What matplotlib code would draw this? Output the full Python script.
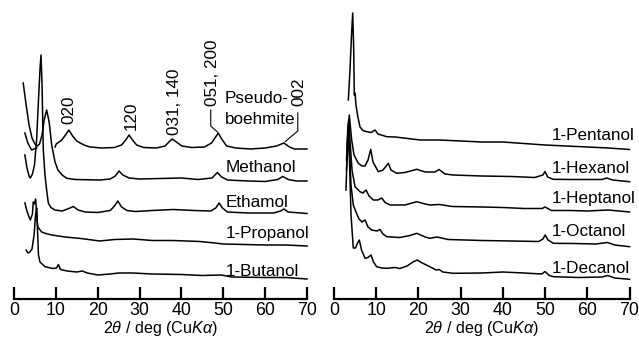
import matplotlib
matplotlib.use("Agg")
import matplotlib.pyplot as plt

plt.rcParams['font.family'] = ['Liberation Sans', 'DejaVu Sans']
plt.rcParams['mathtext.fontset'] = 'custom'
plt.rcParams['mathtext.rm'] = 'Liberation Sans'
plt.rcParams['mathtext.it'] = 'Liberation Sans:italic'

nan = float('nan')

# ---------------- data (2theta in deg, stacked intensity in a.u.) ----------------
# Left panel (nan = break in the drawn trace where it passes behind other traces)
pb_x = [2.6, 3.3, 4.2, 5.4, 6.0, 9.8, 10.1, 11.4, 12.3, 13.1, 14.0, 15.0, 15.8, 17.0, 18.2, 21.0, 24.0,
        25.7, 26.7, 27.5, 28.3, 29.3, 31.0, 34.0, 36.1, 37.0, 37.8, 38.8, 40.1, 42.5, 45.5, 47.2, 48.0,
        48.8, 49.6, 50.8, 53.0, 56.4, 60.0, 62.7, 64.5, 65.8, 67.0, 70.0]
pb_y = [166, 156, 149, 151, nan, 152, 155, 159, 164, 169, 163, 158, 156, 153.5, 152, 151, 151.5,
        154, 159, 164, 159, 154, 151.5, 151, 153, 157, 160, 157, 153, 151.5, 152, 156, 161,
        166, 160, 153, 151, 150, 151, 153, 156, 152, 150, 150]

me_x = [2.2, 2.9, 3.6, 4.3, 5.0, 5.6, 6.1, 6.7, 7.2, 7.8, 8.4, 9.0, 9.8, 10.5, 11.5, 12.6, 14.6, 20.5,
        23.0, 24.2, 25.1, 26.0, 27.5, 30.0, 35.0, 40.0, 44.0, 47.3, 48.6, 49.6, 51.0, 56.0, 60.0, 63.0,
        64.2, 65.5, 67.5, 70.0]
me_y = [216, 194, 174, 161, 155, 153, 155, 164, 179, 189, 177, 154, 137, 129, 124, 120.7, 119.5, 119,
        120, 123, 128, 124, 121, 120, 120.5, 121, 119.5, 121, 126.5, 122, 119, 118, 117.5, 119.5,
        122.5, 119.5, 118, 118]

et_x = [2.6, 3.1, 3.6, 3.9, 4.4, 4.9, 5.4, 5.85, 6.2, 6.45, 6.7, 7.0, 7.4, 7.8, 8.2, 8.8, 9.8, 11.5,
        12.8, 14.2, 15.3, 17.0, 20.0, 23.0, 24.0, 24.8, 25.7, 27.0, 29.0, 33.0, 38.0, 43.0, 47.0, 48.2,
        49.0, 49.8, 51.0, 56.0, 62.0, 63.7, 64.5, 65.5, 70.0]
et_y = [144, 131, 123, 121, 125, 134, 159, 199, 229, 244, 214, 149, 124, 109, 96, 91.5, 89, 88,
        90, 92.5, 89, 87, 86.5, 88.5, 93, 98, 92, 88.5, 87.5, 88.5, 89.5, 88.5, 88, 91,
        96, 91, 87, 86, 86, 88, 90, 87, 85.5]

pr_x = [2.6, 3.1, 3.6, 3.9, 4.4, 4.6, 4.85, 5.17, 5.5, 5.7, 6.6, 7.6, 9.0, 12.2, 16.0, 20.5, 24.0,
        28.4, 33.0, 38.0, 44.4, 48.0, 50.0, 55.0, 60.0, 65.0, 70.0]
pr_y = [96, 88, 82, 79, 85, 97, 95, 100, 80, 72, 67, 65.5, 64, 62, 60.5, 58, 59.5,
        60, 58.5, 58.5, 57.5, 56, 55, 54.5, 54, 54, 53]

bu_x = [2.9, 3.3, 3.8, 4.3, 4.8, 5.14, 5.42, 5.66, 5.85, 6.2, 7.4, 9.3, 10.15, 10.6, 11.1, 12.7, 15.0,
        16.3, 17.5, 20.0, 23.0, 25.0, 28.4, 33.0, 40.0, 45.0, 49.5, 52.0, 60.0, 65.0, 70.0]
bu_y = [49, 46, 47, 50, 64, 84, 91, 64, 44, 37, 32.3, 30.5, 31, 34.5, 29.5, 28, 27,
        28, 26, 24, 25, 26, 26, 25, 24.5, 23.5, 24, 22, 21.5, 21.5, 20]

# Right panel
pe_x = [3.39, 3.79, 4.15, 4.43, 4.67, 4.81, 4.98, 5.21, 5.57, 6.16, 6.87, 7.75, 8.77, 9.72, 10.4, 12.5,
        14.5, 20.4, 25.0, 30.0, 35.0, 40.0, 45.0, 50.0, 55.0, 60.0, 65.0, 70.0]
pe_y = [199, 229, 264, 286, 249, 204, 206, 194, 184, 172, 168.5, 167.3, 166.5, 169, 165, 162.3,
        162, 159, 159, 158, 157, 157, 155.5, 154, 153, 152, 151, 149.5]

hx_x = [3.08, 3.39, 3.63, 3.91, 4.19, 4.74, 5.76, 6.64, 7.35, 8.06, 8.7, 9.24, 10.5, 11.6, 12.87, 13.5,
        14.86, 16.8, 19.6, 21.6, 23.9, 24.9, 26.3, 28.2, 35.0, 42.0, 47.5, 49.5, 50.0, 50.6, 51.9,
        56.0, 60.0, 63.5, 64.6, 66.0, 70.0]
hx_y = [149, 174, 184, 171, 159, 144, 135.7, 133, 133, 139, 149.7, 137, 127.3, 129, 135.7, 129,
        125.7, 126.5, 129.7, 127, 127, 129.5, 125, 124, 123, 122.5, 121.5, 124, 127.5, 122, 119.7,
        119.5, 119.5, 119.5, 121, 119, 117.3]

hp_x = [2.96, 3.27, 3.5, 3.79, 4.27, 4.98, 6.16, 6.87, 7.58, 8.3, 9.31, 10.4, 11.3, 12.1, 13.3, 16.8,
        19.6, 21.6, 22.7, 25.0, 28.0, 35.0, 40.0, 45.0, 49.3, 50.0, 51.5, 56.0, 60.0, 65.0, 70.0]
hp_y = [139, 171, 179, 159, 129, 112.3, 107.3, 106, 109, 103, 99, 99, 101, 96.5, 94, 94,
        97.3, 95, 94, 94.5, 92.5, 92, 91.5, 90.5, 90.5, 92, 88.5, 88.5, 88, 89, 87]

oc_x = [2.84, 3.15, 3.39, 3.67, 4.03, 4.57, 5.21, 5.92, 6.64, 7.35, 8.06, 8.93, 10.2, 10.9, 11.6, 12.5,
        15.6, 18.0, 19.6, 21.6, 22.7, 24.4, 27.0, 35.0, 42.0, 48.5, 49.5, 50.0, 50.7, 52.0, 57.0,
        62.0, 64.8, 66.5, 70.0]
oc_y = [109, 149, 169, 149, 114, 94, 87, 80, 77, 79, 72, 69, 68, 69.5, 65, 62.3,
        61.5, 63.5, 65.7, 62, 60.7, 62, 59.5, 58.5, 58, 57.5, 60, 64, 59, 55.7, 55.5,
        55, 56.5, 54, 52.3]

de_x = [2.96, 3.32, 3.67, 4.03, 4.57, 5.09, 5.57, 6.0, 6.52, 7.35, 8.06, 8.77, 9.36, 10.1, 11.3, 12.5,
        14.5, 15.6, 17.3, 18.7, 19.7, 20.9, 22.7, 24.2, 24.9, 25.8, 28.2, 35.0, 40.0, 45.0, 49.2,
        50.0, 51.0, 52.0, 58.0, 63.5, 64.8, 66.5, 70.0]
de_y = [129, 164, 139, 84, 51, 51, 56, 59, 49, 40.7, 41.5, 44, 37, 32.3, 31, 30.7,
        31.5, 30.5, 33, 37, 39, 36, 32.3, 29, 29.5, 27, 25.7, 26, 27, 26, 25,
        27.5, 23.5, 22.3, 21.5, 22, 23.5, 21, 19.7]

left_series = [(pb_x, pb_y), (me_x, me_y), (et_x, et_y), (pr_x, pr_y), (bu_x, bu_y)]
right_series = [(pe_x, pe_y), (hx_x, hx_y), (hp_x, hp_y), (oc_x, oc_y), (de_x, de_y)]

left_labels = ["Methanol", "Ethamol", "1-Propanol", "1-Butanol"]
left_label_y = [126.5, 92, 60.7, 23.5]
right_labels = ["1-Pentanol", "1-Hexanol", "1-Heptanol", "1-Octanol", "1-Decanol"]
right_label_y = [159, 125.7, 95.7, 63.3, 26.3]

peak_labels = ["020", "120", "031, 140", "051, 200", "002"]
peak_pos = [13.1, 28.1, 38.3, 47.4, 68.1]
peak_lab_y = [189, 183, 197, 226, 207]

xticks = [0, 10, 20, 30, 40, 50, 60, 70]

# ---------------- figure ----------------
W, H = 639, 341
fig = plt.figure(figsize=(W / 100, H / 100), dpi=100)
axis_py = 299
axL = fig.add_axes([14 / W, (H - axis_py) / H, (307 - 14) / W, axis_py / H])
axR = fig.add_axes([334 / W, (H - axis_py) / H, (629.5 - 334) / W, axis_py / H])

FS = 12.3
for ax, series in ((axL, left_series), (axR, right_series)):
    for xs, ys in series:
        ax.plot(xs, ys, color='black', lw=1.1, clip_on=False, solid_joinstyle='round')
    ax.set_xlim(0, 70)
    ax.set_ylim(0, axis_py)
    for s in ('left', 'right', 'top'):
        ax.spines[s].set_visible(False)
    ax.spines['bottom'].set_linewidth(1.6)
    ax.set_yticks([])
    ax.set_xticks(xticks)
    ax.tick_params(axis='x', direction='in', length=9, width=1.6, pad=2, labelsize=12.8)
    ax.set_xlabel(r'2$\theta$ / deg (Cu$K\alpha$)', fontsize=11.6, labelpad=0.5)
    ax.patch.set_alpha(0)

for lab, y in zip(left_labels, left_label_y):
    axL.text(50.6, y, lab, fontsize=FS, ha='left', va='baseline')
axL.text(50.4, 196, "Pseudo-", fontsize=FS, ha='left', va='baseline')
axL.text(50.4, 175, "boehmite", fontsize=FS, ha='left', va='baseline')

for lab, x, y in zip(peak_labels, peak_pos, peak_lab_y):
    axL.text(x, y, lab, fontsize=FS, rotation=90, ha='center', va='center')

# leader lines for 051,200 and 002
axL.plot([47.0, 47.0, 48.6], [189, 173, 167], color='black', lw=0.8)
axL.plot([67.8, 67.8, 64.8], [186, 168, 157.5], color='black', lw=0.8, clip_on=False)

for lab, y in zip(right_labels, right_label_y):
    axR.text(51.7, y, lab, fontsize=FS, ha='left', va='baseline')

fig.savefig("out.png", dpi=100)
